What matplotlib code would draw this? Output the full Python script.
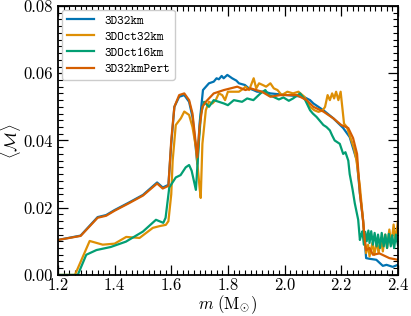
import matplotlib
matplotlib.use("Agg")
import matplotlib.pyplot as plt
from matplotlib.ticker import MultipleLocator, FormatStrFormatter

plt.rcParams['font.family'] = 'cmr10'
plt.rcParams['mathtext.fontset'] = 'cm'
plt.rcParams['axes.unicode_minus'] = False
plt.rcParams['axes.formatter.use_mathtext'] = True

# 3D32km
m_32 = [1.20, 1.28, 1.34, 1.37, 1.40, 1.45, 1.50, 1.55, 1.57, 1.59, 1.60, 1.611, 1.628, 1.646,
        1.663, 1.675, 1.684, 1.692, 1.70, 1.712, 1.733, 1.75, 1.76, 1.768, 1.778, 1.785, 1.798,
        1.815, 1.83, 1.839, 1.86, 1.874, 1.89, 1.903, 1.93, 1.95, 2.008, 2.067, 2.09, 2.102,
        2.137, 2.172, 2.207, 2.23, 2.248, 2.255, 2.266, 2.277, 2.283, 2.288, 2.30, 2.324,
        2.347, 2.36, 2.382, 2.40]
v_32 = [0.0104, 0.0117, 0.0172, 0.0178, 0.0193, 0.0215, 0.0238, 0.0275, 0.0260, 0.0268, 0.0390,
        0.0500, 0.0530, 0.0535, 0.0515, 0.0470, 0.0400, 0.0330, 0.0450, 0.0550, 0.0570, 0.0575,
        0.0585, 0.0582, 0.0592, 0.0585, 0.0595, 0.0585, 0.0578, 0.0570, 0.0565, 0.0555, 0.0550,
        0.0545, 0.0545, 0.0540, 0.0535, 0.0530, 0.0520, 0.0510, 0.0490, 0.0466, 0.0437, 0.0410,
        0.0360, 0.0342, 0.0243, 0.0164, 0.0104, 0.0050, 0.0048, 0.0045, 0.0027, 0.0030, 0.0024,
        0.0030]

# 3DOct32km
m_oct32 = [1.20, 1.26, 1.312, 1.358, 1.40, 1.441, 1.488, 1.535, 1.558, 1.581, 1.59, 1.60, 1.605,
           1.616, 1.634, 1.646, 1.663, 1.675, 1.687, 1.70, 1.704, 1.71, 1.722, 1.733, 1.745,
           1.757, 1.768, 1.78, 1.79, 1.80, 1.815, 1.839, 1.856, 1.862, 1.875, 1.891, 1.90,
           1.91, 1.923, 1.935, 1.95, 1.962, 1.975, 1.99, 2.01, 2.03, 2.049, 2.07, 2.09, 2.105,
           2.12, 2.135, 2.143, 2.152, 2.16, 2.168, 2.175, 2.182, 2.19, 2.198, 2.205, 2.21,
           2.22, 2.233, 2.245, 2.254, 2.266, 2.277, 2.283, 2.288, 2.295, 2.30, 2.31, 2.317,
           2.325, 2.332, 2.34, 2.347, 2.355, 2.362, 2.37, 2.377, 2.385, 2.392, 2.40]
v_oct32 = [0.0, 0.0, 0.0101, 0.0090, 0.0093, 0.0113, 0.0110, 0.0140, 0.0145, 0.0149, 0.0160,
           0.0240, 0.0340, 0.0446, 0.0466, 0.0486, 0.0476, 0.0440, 0.0380, 0.0260, 0.0229,
           0.0390, 0.0490, 0.0515, 0.0510, 0.0520, 0.0540, 0.0535, 0.0520, 0.0545, 0.0545,
           0.0545, 0.0555, 0.0560, 0.0550, 0.0585, 0.0555, 0.0570, 0.0565, 0.0560, 0.0570,
           0.0555, 0.0550, 0.0535, 0.0545, 0.0540, 0.0545, 0.0530, 0.0500, 0.0490, 0.0485,
           0.0490, 0.0500, 0.0535, 0.0520, 0.0540, 0.0525, 0.0545, 0.0520, 0.0545, 0.0490,
           0.0450, 0.0440, 0.0407, 0.0377, 0.0340, 0.0263, 0.0164, 0.0104, 0.0065, 0.0090,
           0.0055, 0.0095, 0.0060, 0.0100, 0.0065, 0.0110, 0.0070, 0.0120, 0.0080, 0.0135,
           0.0090, 0.0150, 0.0100, 0.0160]

# 3DOct16km
m_oct16 = [1.20, 1.27, 1.30, 1.336, 1.386, 1.44, 1.50, 1.546, 1.572, 1.58, 1.593, 1.616, 1.633,
           1.651, 1.663, 1.672, 1.687, 1.698, 1.705, 1.716, 1.733, 1.75, 1.768, 1.786, 1.80,
           1.821, 1.85, 1.868, 1.89, 1.915, 1.932, 1.944, 1.96, 1.98, 1.996, 2.015, 2.03, 2.055,
           2.073, 2.09, 2.10, 2.113, 2.125, 2.137, 2.148, 2.16, 2.168, 2.177, 2.186, 2.195,
           2.207, 2.215, 2.225, 2.23, 2.24, 2.248, 2.26, 2.266, 2.271, 2.275, 2.28, 2.285,
           2.29, 2.296, 2.30, 2.306, 2.312, 2.318, 2.325, 2.33, 2.337, 2.343, 2.35, 2.356,
           2.362, 2.368, 2.375, 2.38, 2.387, 2.393, 2.40]
v_oct16 = [0.0, 0.0, 0.0060, 0.0074, 0.0083, 0.0099, 0.0129, 0.0164, 0.0155, 0.0170, 0.0260,
           0.0290, 0.0297, 0.0320, 0.0327, 0.0310, 0.0253, 0.0400, 0.0480, 0.0515, 0.0500,
           0.0520, 0.0515, 0.0510, 0.0505, 0.0520, 0.0515, 0.0525, 0.0520, 0.0540, 0.0550,
           0.0535, 0.0530, 0.0522, 0.0528, 0.0518, 0.0525, 0.0540, 0.0520, 0.0490, 0.0480,
           0.0470, 0.0458, 0.0446, 0.0440, 0.0430, 0.0415, 0.0400, 0.0395, 0.0390, 0.0360,
           0.0365, 0.0340, 0.0300, 0.0255, 0.0213, 0.0164, 0.0104, 0.0120, 0.0130, 0.0090,
           0.0128, 0.0100, 0.0132, 0.0095, 0.0130, 0.0090, 0.0125, 0.0085, 0.0120, 0.0080,
           0.0125, 0.0085, 0.0120, 0.0080, 0.0122, 0.0085, 0.0118, 0.0080, 0.0120, 0.0090]

# 3D32kmPert
m_pert = [1.20, 1.28, 1.34, 1.37, 1.40, 1.45, 1.50, 1.55, 1.57, 1.59, 1.60, 1.611, 1.628, 1.646,
          1.663, 1.675, 1.684, 1.692, 1.70, 1.71, 1.722, 1.75, 1.786, 1.833, 1.862, 1.88, 1.92,
          1.95, 1.985, 2.043, 2.078, 2.102, 2.137, 2.172, 2.20, 2.225, 2.242, 2.256, 2.266,
          2.277, 2.283, 2.288, 2.30, 2.312, 2.335, 2.37, 2.40]
v_pert = [0.0104, 0.0116, 0.0170, 0.0176, 0.0191, 0.0213, 0.0236, 0.0272, 0.0257, 0.0265, 0.0400,
          0.0500, 0.0535, 0.0540, 0.0520, 0.0480, 0.0410, 0.0350, 0.0440, 0.0500, 0.0515, 0.0540,
          0.0550, 0.0560, 0.0550, 0.0555, 0.0545, 0.0530, 0.0535, 0.0535, 0.0520, 0.0500, 0.0486,
          0.0466, 0.0446, 0.0437, 0.0407, 0.0360, 0.0243, 0.0164, 0.0104, 0.0074, 0.0080, 0.0060,
          0.0064, 0.0050, 0.0045]

fig = plt.figure(figsize=(4.11, 3.16), dpi=100)
ax = fig.add_axes([0.141, 0.130, 0.827, 0.851])

ax.plot(m_32, v_32, color='#0173b2', lw=1.6, label='3D32km')
ax.plot(m_oct32, v_oct32, color='#de8f05', lw=1.6, label='3DOct32km')
ax.plot(m_oct16, v_oct16, color='#029e73', lw=1.6, label='3DOct16km')
ax.plot(m_pert, v_pert, color='#d55e00', lw=1.6, label='3D32kmPert')

ax.set_xlim(1.2, 2.4)
ax.set_ylim(0.0, 0.08)
ax.xaxis.set_major_locator(MultipleLocator(0.2))
ax.xaxis.set_minor_locator(MultipleLocator(0.02))
ax.yaxis.set_major_locator(MultipleLocator(0.02))
ax.yaxis.set_minor_locator(MultipleLocator(0.002))
ax.xaxis.set_major_formatter(FormatStrFormatter('%.1f'))
ax.yaxis.set_major_formatter(FormatStrFormatter('%.2f'))
ax.tick_params(which='both', direction='in', top=True, right=True, labelsize=12)
ax.tick_params(which='major', length=7, width=0.9)
ax.tick_params(which='minor', length=3.5, width=0.8)
ax.tick_params(axis='x', pad=2)
for s in ax.spines.values():
    s.set_linewidth(1.3)

ax.set_xlabel(r'$m\ (\mathrm{M}_{\odot})$', fontsize=12, labelpad=0)
ax.set_ylabel(r'$\langle\mathcal{M}\rangle$', fontsize=12, labelpad=0)

leg = ax.legend(loc='upper left', prop={'family': 'cmtt10', 'size': 9}, handlelength=2.2,
                borderaxespad=0.3, labelspacing=0.35, fancybox=True, framealpha=1.0)
leg.get_frame().set_edgecolor('#cccccc')

fig.savefig('out.png', dpi=100)
